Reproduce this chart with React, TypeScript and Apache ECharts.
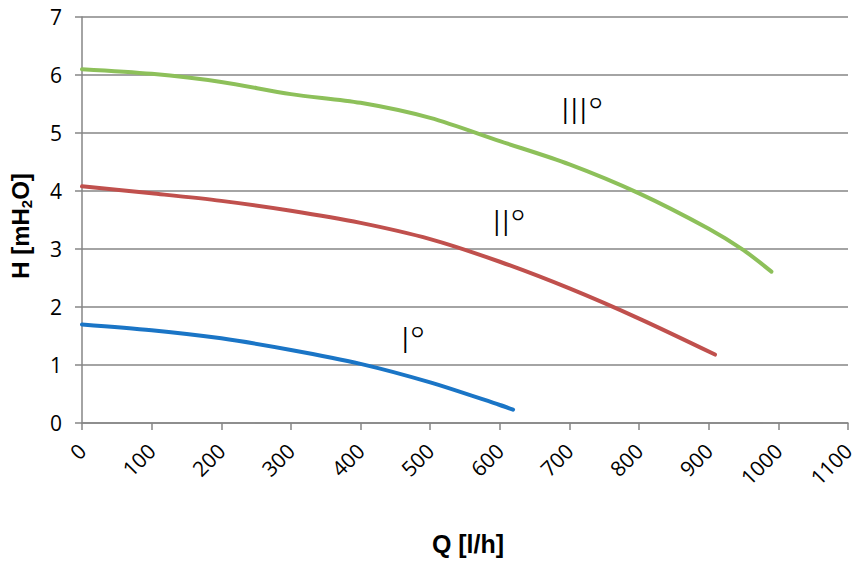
import React, { useEffect, useRef } from "react";
import * as echarts from "echarts";

const qIII = [0, 100, 200, 300, 400, 500, 600, 700, 800, 900, 950, 990];
const hIII = [6.1, 6.02, 5.88, 5.67, 5.52, 5.26, 4.86, 4.46, 3.96, 3.35, 2.98, 2.61];
const qII = [0, 100, 200, 300, 400, 500, 600, 700, 800, 909];
const hII = [4.08, 3.96, 3.83, 3.66, 3.45, 3.17, 2.78, 2.32, 1.8, 1.18];
const qI = [0, 100, 200, 300, 400, 500, 600, 619];
const hI = [1.7, 1.6, 1.46, 1.26, 1.02, 0.7, 0.31, 0.23];

const seriesNames = ["III°", "II°", "I°"];
const colors = ["#8DC05A", "#C0504D", "#1A75C6"];

const FONT = "'Open Sans', 'Liberation Sans', sans-serif";
const BOLD = "'Liberation Sans', Arial, sans-serif";

export default function App() {
  const ref = useRef<HTMLDivElement>(null);
  useEffect(() => {
    if (!ref.current) return;
    const chart = echarts.init(ref.current, undefined, { renderer: "svg" });
    const pairs = (q: number[], h: number[]) => q.map((v, i) => [v, h[i]]);
    const datasets = [pairs(qIII, hIII), pairs(qII, hII), pairs(qI, hI)];
    const axisGray = "#868686";
    chart.setOption({
      animation: false,
      backgroundColor: "#ffffff",
      grid: { left: 82, right: 12, top: 17, bottom: 141, containLabel: false },
      xAxis: {
        type: "value",
        min: 0,
        max: 1100,
        interval: 100,
        axisLine: { show: true, lineStyle: { color: axisGray, width: 1.5 } },
        axisTick: { show: true, length: 7, lineStyle: { color: axisGray, width: 1.5 } },
        splitLine: { show: false },
        axisLabel: {
          rotate: 45,
          margin: 24,
          color: "#000",
          fontSize: 21,
          fontFamily: FONT,
          formatter: (v: number) => String(v),
        },
      },
      yAxis: {
        type: "value",
        min: 0,
        max: 7,
        interval: 1,
        axisLine: { show: true, lineStyle: { color: axisGray, width: 1.5 } },
        axisTick: { show: true, length: 7, lineStyle: { color: axisGray, width: 1.5 } },
        splitLine: { show: true, lineStyle: { color: axisGray, width: 1.5 } },
        axisLabel: {
          margin: 20,
          color: "#000",
          fontSize: 21,
          fontFamily: FONT,
        },
      },
      series: datasets.map((d, i) => ({
        name: seriesNames[i],
        type: "line",
        data: d,
        smooth: 0.3,
        showSymbol: false,
        symbol: "none",
        lineStyle: { color: colors[i], width: 4, cap: "round" },
      })),
      graphic: [
        {
          type: "text",
          x: 20,
          y: 226,
          rotation: Math.PI / 2,
          style: {
            text: "{a|H [mH}{s|2}{a|O]}",
            align: "center",
            verticalAlign: "middle",
            rich: {
              a: { fontSize: 24, fontWeight: "bold", fontFamily: BOLD, fill: "#000" },
              s: { fontSize: 15, fontWeight: "bold", fontFamily: BOLD, fill: "#000", padding: [12, 0, 0, 0] },
            },
          },
        },
        {
          type: "text",
          x: 468,
          y: 544,
          style: {
            text: "Q [l/h]",
            align: "center",
            verticalAlign: "middle",
            fontSize: 25,
            fontWeight: "bold",
            fontFamily: BOLD,
            fill: "#000",
          },
        },
        {
          type: "text",
          x: 582,
          y: 110,
          style: { text: seriesNames[0], align: "center", verticalAlign: "middle", fontSize: 36, fontFamily: FONT, fontWeight: 300, fill: "#000" },
        },
        {
          type: "text",
          x: 509,
          y: 222,
          style: { text: seriesNames[1], align: "center", verticalAlign: "middle", fontSize: 36, fontFamily: FONT, fontWeight: 300, fill: "#000" },
        },
        {
          type: "text",
          x: 413,
          y: 339,
          style: { text: seriesNames[2], align: "center", verticalAlign: "middle", fontSize: 36, fontFamily: FONT, fontWeight: 300, fill: "#000" },
        },
      ],
    });
    return () => chart.dispose();
  }, []);
  return <div ref={ref} style={{ position: "fixed", left: 0, top: 0, width: 860, height: 564 }} />;
}
